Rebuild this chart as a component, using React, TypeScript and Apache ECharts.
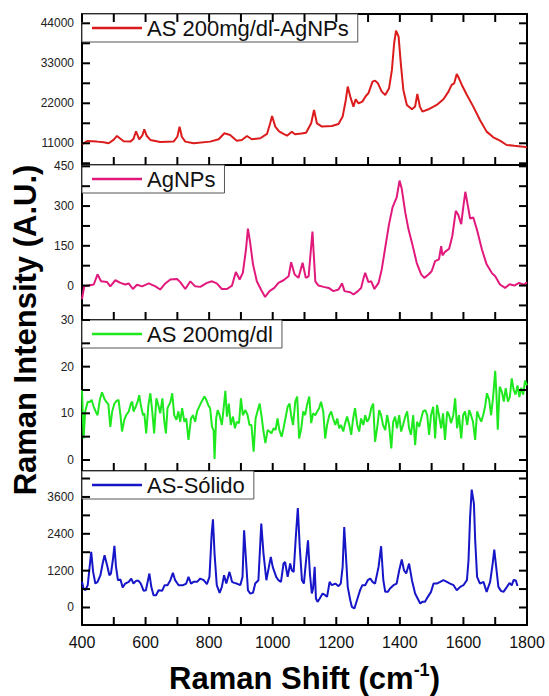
import React, { useEffect, useRef } from 'react';
import * as echarts from 'echarts';

// ---------- data ----------
const seriesNames = ['AS 200mg/dl-AgNPs', 'AgNPs', 'AS 200mg/dl', 'AS-Sólido'];
const seriesColors = ['#dc1c1c', '#e2197c', '#1ee81e', '#1616c8'];

const xLabelTicks = [400, 600, 800, 1000, 1200, 1400, 1600, 1800];
const xAllTicks = [400, 500, 600, 700, 800, 900, 1000, 1100, 1200, 1300, 1400, 1500, 1600, 1700, 1800];

const yLabels1 = [11000, 22000, 33000, 44000];
const yTicks1 = [5500, 11000, 16500, 22000, 27500, 33000, 38500, 44000];
const yLabels2 = [0, 150, 300, 450];
const yTicks2 = [-75, 0, 75, 150, 225, 300, 375, 450];
const yLabels3 = [0, 10, 20, 30];
const yTicks3 = [0, 5, 10, 15, 20, 25, 30];
const yLabels4 = [0, 1200, 2400, 3600];
const yTicks4 = [0, 600, 1200, 1800, 2400, 3000, 3600, 4200];

const yRanges = [
  [5030, 46560],
  [-130, 455],
  [-2.36, 30],
  [-570, 4445],
];

const asAgnps = [
  [400, 10725], [416, 11640], [447, 11460], [468, 11275], [484, 11000], [500, 12000], [510, 13020], [520, 12300], [531, 11550],
  [552, 11460], [562, 12200], [570, 14300], [580, 12100], [590, 13200], [596, 14850], [604, 13000], [615, 11920], [646, 11370],
  [688, 11460], [700, 12800], [707, 15590], [714, 12800], [725, 11460], [751, 11000], [803, 11460], [830, 12100], [848, 13750],
  [866, 13290], [887, 11730], [903, 11920], [919, 13020], [934, 12100], [961, 12380], [982, 13570], [992, 16500], [998, 18520],
  [1008, 15590], [1020, 14300], [1034, 13570], [1045, 13100], [1060, 14200], [1070, 13500], [1090, 13700], [1105, 13900],
  [1121, 16500], [1130, 20170], [1139, 16500], [1155, 15590], [1186, 15770], [1207, 16320], [1220, 18340], [1230, 22920],
  [1236, 26590], [1244, 23840], [1254, 21090], [1261, 23100], [1270, 22000], [1282, 22460], [1293, 24020], [1301, 24750],
  [1314, 27960], [1322, 28240], [1331, 27500], [1343, 25210], [1354, 24300], [1366, 26130], [1375, 31170], [1382, 38510],
  [1388, 42000], [1396, 40340], [1403, 33000], [1411, 25670], [1422, 21550], [1438, 20350], [1448, 21090], [1455, 24570],
  [1463, 21090], [1471, 19710], [1490, 20350], [1516, 21550], [1537, 23100], [1553, 25210], [1563, 27050], [1571, 27500],
  [1579, 30070], [1586, 28880], [1595, 27050], [1611, 24300], [1631, 21090], [1652, 17420], [1673, 14210], [1694, 12650],
  [1715, 11730], [1736, 10540], [1760, 10300], [1780, 10150], [1800, 9900],
];

const agnps = [
  [400, -51], [407, -3], [421, 0], [437, 4], [449, 42], [460, 16], [479, 13], [489, -3], [505, 20], [521, 10], [536, 4],
  [547, 8], [560, -13], [573, 3], [589, -3], [610, 8], [631, -3], [646, -15], [662, 8], [678, 23], [699, 25], [709, 13],
  [725, -13], [741, 16], [756, -3], [772, -5], [793, 10], [809, 16], [824, 8], [840, -13], [856, -13], [872, 0], [884, 51],
  [896, 23], [906, 48], [916, 137], [922, 215], [929, 162], [938, 80], [950, 16], [963, -15], [976, -43], [990, -21],
  [1005, -9], [1018, 10], [1034, 20], [1050, 35], [1058, 88], [1069, 42], [1081, 29], [1094, 86], [1104, 29], [1113, 35],
  [1125, 204], [1134, 16], [1144, 0], [1160, -5], [1176, -9], [1191, -21], [1207, -15], [1218, 8], [1226, -21], [1244, -25],
  [1254, -34], [1268, -21], [1278, -9], [1286, 29], [1291, 48], [1301, 13], [1310, 16], [1320, -13], [1333, 10], [1343, 61],
  [1354, 143], [1366, 232], [1377, 295], [1390, 333], [1399, 396], [1406, 365], [1417, 276], [1427, 213], [1438, 162],
  [1453, 86], [1467, 42], [1477, 29], [1490, 42], [1500, 54], [1511, 92], [1523, 99], [1530, 149], [1534, 114], [1542, 127],
  [1555, 139], [1565, 187], [1576, 282], [1584, 266], [1593, 232], [1600, 301], [1606, 354], [1614, 301], [1621, 253],
  [1631, 257], [1642, 213], [1658, 137], [1673, 80], [1689, 48], [1700, 35], [1715, 4], [1731, -9], [1745, 5], [1760, 0],
  [1775, 10], [1790, 3], [1800, 12],
];

const as200 = [
  [400, 15.0], [405, 4.6], [410, 10.4], [418, 12.5], [424, 12.4], [430, 12.9], [437, 11.4], [443, 10.4], [449, 9.6],
  [456, 12.9], [463, 14.5], [470, 13.2], [477, 12.4], [483, 11.9], [489, 7.1], [495, 10.4], [502, 12.1], [508, 12.6],
  [515, 12.9], [521, 9.6], [526, 6.1], [533, 8.6], [539, 9.6], [547, 10.4], [554, 12.1], [558, 12.5], [562, 10.4],
  [569, 11.4], [575, 12.5], [580, 13.9], [585, 11.8], [592, 9.6], [596, 10.0], [602, 5.7], [609, 11.8], [615, 14.3],
  [621, 10.4], [627, 5.7], [634, 13.2], [640, 11.8], [646, 10.0], [653, 13.2], [659, 8.2], [664, 5.7], [669, 11.1],
  [678, 12.4], [684, 14.3], [690, 9.6], [697, 8.6], [703, 10.4], [709, 8.2], [715, 11.1], [722, 8.2], [728, 8.9],
  [735, 4.3], [743, 8.9], [749, 9.6], [756, 8.2], [762, 10.4], [770, 11.6], [777, 12.6], [785, 13.6], [791, 12.9],
  [797, 11.8], [803, 11.1], [809, 7.1], [814, 6.4], [817, 0.2], [822, 8.9], [827, 10.7], [833, 9.6], [840, 7.5],
  [845, 10.7], [851, 14.8], [856, 9.3], [862, 12.1], [868, 7.5], [875, 9.3], [881, 6.8], [887, 8.2], [894, 7.9],
  [900, 13.2], [906, 9.6], [914, 10.7], [921, 9.6], [927, 7.5], [933, 7.5], [940, 1.8], [946, 8.9], [952, 10.4],
  [959, 12.1], [965, 9.3], [971, 6.1], [977, 3.6], [984, 6.4], [990, 6.1], [996, 5.7], [1003, 6.8], [1009, 6.4],
  [1015, 8.9], [1021, 6.4], [1028, 5.0], [1034, 6.8], [1040, 8.9], [1047, 11.4], [1053, 12.1], [1058, 9.6], [1064, 7.5],
  [1071, 12.5], [1077, 13.6], [1083, 4.6], [1090, 6.8], [1096, 10.4], [1102, 9.6], [1108, 11.8], [1115, 13.6],
  [1121, 7.9], [1127, 10.0], [1134, 9.6], [1140, 10.4], [1146, 11.1], [1152, 12.5], [1159, 10.4], [1165, 4.6],
  [1171, 7.5], [1178, 9.6], [1184, 10.4], [1190, 8.9], [1197, 7.5], [1203, 8.9], [1209, 6.8], [1215, 7.5], [1222, 6.1],
  [1228, 7.9], [1234, 9.3], [1241, 7.5], [1247, 5.4], [1253, 8.9], [1259, 11.1], [1266, 7.5], [1272, 6.1], [1278, 8.9],
  [1285, 7.5], [1291, 9.6], [1297, 8.2], [1303, 8.9], [1310, 11.1], [1316, 12.1], [1322, 3.9], [1329, 7.1], [1335, 10.7],
  [1341, 9.6], [1347, 7.5], [1354, 6.4], [1360, 9.6], [1366, 7.5], [1373, 2.5], [1379, 8.2], [1385, 9.3], [1391, 6.8],
  [1398, 9.6], [1404, 6.1], [1410, 7.5], [1417, 9.3], [1423, 10.4], [1429, 6.8], [1435, 5.4], [1442, 9.6], [1448, 3.2],
  [1454, 8.2], [1461, 7.1], [1467, 8.9], [1473, 10.4], [1480, 10.7], [1486, 9.6], [1492, 5.4], [1498, 9.6], [1505, 11.4],
  [1511, 4.6], [1517, 11.8], [1523, 9.6], [1530, 6.8], [1536, 10.0], [1542, 4.3], [1549, 10.4], [1555, 9.6], [1561, 7.9],
  [1568, 9.6], [1574, 13.2], [1580, 6.8], [1586, 9.6], [1593, 4.6], [1599, 9.6], [1605, 10.4], [1612, 7.5], [1618, 10.7],
  [1624, 9.6], [1630, 8.2], [1637, 4.3], [1643, 10.4], [1649, 9.3], [1656, 8.2], [1662, 9.6], [1668, 11.4], [1674, 14.3],
  [1681, 12.9], [1687, 9.6], [1693, 13.2], [1700, 19.1], [1704, 13.9], [1708, 6.5], [1714, 15.7], [1721, 14.6],
  [1727, 12.5], [1733, 15.4], [1740, 12.5], [1746, 13.5], [1752, 17.5], [1758, 15.0], [1764, 14.0], [1770, 16.0],
  [1776, 13.5], [1782, 15.5], [1788, 14.0], [1794, 17.0], [1800, 16.0],
];

const asSolido = [
  [400, 835], [405, 618], [410, 564], [418, 726], [424, 1322], [429, 1810], [435, 1160], [442, 780], [449, 835],
  [458, 1051], [465, 1431], [471, 1702], [479, 1377], [486, 1051], [491, 1106], [497, 1539], [502, 2005], [507, 1322],
  [513, 889], [521, 911], [528, 650], [536, 780], [547, 835], [555, 943], [562, 780], [570, 867], [578, 867], [585, 780],
  [594, 542], [601, 564], [612, 1106], [618, 672], [625, 401], [633, 401], [641, 564], [652, 542], [660, 726], [669, 726],
  [678, 889], [686, 1127], [693, 889], [704, 726], [718, 726], [728, 780], [735, 997], [743, 780], [751, 835], [762, 835],
  [772, 943], [783, 889], [793, 759], [801, 997], [808, 2406], [812, 2873], [817, 1756], [824, 726], [833, 477], [840, 672],
  [847, 1051], [854, 780], [864, 1160], [872, 835], [879, 802], [887, 780], [898, 726], [905, 997], [910, 2515], [916, 1539],
  [922, 564], [929, 455], [938, 477], [945, 780], [955, 889], [964, 2731], [971, 1756], [980, 889], [988, 1322], [994, 1648],
  [1000, 1322], [1011, 997], [1018, 889], [1026, 835], [1034, 1431], [1039, 1485], [1047, 997], [1055, 1431], [1060, 1214],
  [1066, 1160], [1073, 2352], [1079, 3241], [1085, 1973], [1092, 889], [1098, 780], [1104, 1431], [1111, 2190], [1117, 1106],
  [1123, 455], [1127, 618], [1132, 1322], [1136, 293], [1141, 184], [1148, 293], [1157, 455], [1165, 401], [1171, 347],
  [1179, 835], [1186, 726], [1197, 780], [1207, 694], [1214, 780], [1220, 1322], [1225, 2623], [1230, 1756], [1236, 672],
  [1244, 238], [1249, 22], [1257, -33], [1265, 238], [1275, 564], [1282, 726], [1291, 726], [1299, 889], [1307, 943],
  [1314, 835], [1322, 780], [1333, 1322], [1341, 1995], [1348, 889], [1354, 509], [1362, 509], [1369, 618], [1380, 726],
  [1390, 780], [1398, 1214], [1406, 1561], [1413, 1214], [1420, 1106], [1429, 1431], [1438, 889], [1448, 455], [1456, 293],
  [1464, 130], [1471, 184], [1479, 184], [1488, 347], [1498, 509], [1506, 780], [1516, 780], [1527, 835], [1537, 889],
  [1548, 835], [1558, 780], [1569, 726], [1579, 564], [1590, 672], [1600, 726], [1611, 889], [1616, 1539], [1621, 2948],
  [1626, 3837], [1633, 3382], [1637, 2190], [1643, 997], [1652, 780], [1663, 835], [1673, 509], [1684, 835], [1692, 1431],
  [1697, 1886], [1703, 1322], [1710, 672], [1718, 542], [1726, 509], [1737, 672], [1745, 800], [1752, 720], [1758, 900],
  [1765, 880], [1770, 700],
];

const allSeries = [asAgnps, agnps, as200, asSolido];
const yLabelSets = [yLabels1, yLabels2, yLabels3, yLabels4];
const yTickSets = [yTicks1, yTicks2, yTicks3, yTicks4];

// ---------- layout ----------
const PANEL_TOPS = [14, 165, 320, 471];
const PANEL_HEIGHTS = [151, 155, 151, 154];
const X_MIN = 400;
const X_MAX = 1800;
const TICK_LEN = 8;
const FONT = 'Arial, "Liberation Sans", Helvetica, sans-serif';
const plain = (v: number) => String(v);

export default function App() {
  const ref = useRef<HTMLDivElement>(null);

  useEffect(() => {
    if (!ref.current) return;
    const chart = echarts.init(ref.current, undefined, { renderer: 'svg' });

    const axisLine = { show: true, onZero: false, lineStyle: { color: '#000', width: 2 } };

    const grids = PANEL_TOPS.map((t, i) => ({ left: 82, right: 22, top: t, height: PANEL_HEIGHTS[i] }));

    const bottomX = PANEL_TOPS.map((_, i) => ({
      type: 'value',
      gridIndex: i,
      position: 'bottom',
      min: X_MIN,
      max: X_MAX,
      axisLine,
      splitLine: { show: false },
      axisTick: { show: false },
      axisLabel:
        i === 3
          ? { show: true, customValues: xLabelTicks, formatter: plain, fontSize: 16, color: '#111', fontFamily: FONT, margin: 9 }
          : { show: false },
      ...(i === 3
        ? {
            name: '{a|Raman Shift (cm}{b|-1}{a|)}',
            nameLocation: 'middle',
            nameGap: 36,
            nameTextStyle: {
              rich: {
                a: { fontSize: 31, fontWeight: 'bold', fontFamily: FONT, color: '#000', lineHeight: 34 },
                b: { fontSize: 18, fontWeight: 'bold', fontFamily: FONT, color: '#000', verticalAlign: 'top', lineHeight: 20 },
              },
            },
          }
        : {}),
    }));
    const topX = PANEL_TOPS.map((_, i) => ({
      type: 'value',
      gridIndex: i,
      position: 'top',
      min: X_MIN,
      max: X_MAX,
      axisLine,
      splitLine: { show: false },
      axisTick: { show: false },
      axisLabel: { show: false },
    }));

    const leftY = PANEL_TOPS.map((_, i) => ({
      type: 'value',
      gridIndex: i,
      position: 'left',
      min: yRanges[i][0],
      max: yRanges[i][1],
      axisLine,
      splitLine: { show: false },
      axisTick: { show: false },
      axisLabel: {
        show: true,
        customValues: yLabelSets[i],
        formatter: plain,
        fontSize: 12,
        color: '#222',
        fontFamily: FONT,
        margin: 8,
      },
    }));
    const rightY = PANEL_TOPS.map((_, i) => ({
      type: 'value',
      gridIndex: i,
      position: 'right',
      min: yRanges[i][0],
      max: yRanges[i][1],
      axisLine,
      splitLine: { show: false },
      axisTick: { show: false },
      axisLabel: { show: false },
    }));

    const legends = seriesNames.map((n, i) => ({
      data: [n],
      left: 82,
      top: PANEL_TOPS[i],
      orient: 'horizontal',
      backgroundColor: '#fff',
      borderColor: '#555',
      borderWidth: 1,
      padding: [3, 9, 3, 10],
      itemWidth: 50,
      itemHeight: 2.5,
      icon: 'rect',
      selectedMode: false,
      z: 5,
      textStyle: { fontSize: 22, fontFamily: FONT, color: '#111', lineHeight: 22 },
    }));

    const lineSeries = allSeries.map((d, i) => ({
      name: seriesNames[i],
      type: 'line',
      xAxisIndex: i,
      yAxisIndex: i,
      data: d,
      showSymbol: false,
      symbol: 'none',
      clip: true,
      color: seriesColors[i],
      lineStyle: { color: seriesColors[i], width: 2 },
      z: 2,
    }));

    const yTitle = {
      type: 'text',
      x: 25,
      y: 330,
      rotation: Math.PI / 2,
      style: {
        text: 'Raman Intensity (A.U.)',
        fontSize: 31,
        fontWeight: 'bold',
        fontFamily: FONT,
        fill: '#000',
        align: 'center',
        verticalAlign: 'middle',
      },
    };

    chart.setOption({
      animation: false,
      backgroundColor: '#fff',
      grid: grids,
      xAxis: [...bottomX, ...topX],
      yAxis: [...leftY, ...rightY],
      legend: legends,
      series: lineSeries,
      graphic: [yTitle],
    });

    // Inside tick marks on the frames, positioned through each panel's own scales.
    const ticks: any[] = [];
    const mk = (x: number, y: number, w: number, h: number) => ({
      type: 'rect',
      silent: true,
      z: 20,
      shape: { x, y, width: w, height: h },
      style: { fill: '#000' },
    });
    PANEL_TOPS.forEach((_, i) => {
      const finder = { xAxisIndex: i, yAxisIndex: i };
      yTickSets[i].forEach((v) => {
        const l = chart.convertToPixel(finder, [X_MIN, v]) as number[];
        const r = chart.convertToPixel(finder, [X_MAX, v]) as number[];
        if (!l || !r) return;
        ticks.push(mk(l[0], l[1] - 1, TICK_LEN, 2));
        ticks.push(mk(r[0] - TICK_LEN, r[1] - 1, TICK_LEN, 2));
      });
      xAllTicks.forEach((x) => {
        const b = chart.convertToPixel(finder, [x, yRanges[i][0]]) as number[];
        if (b) ticks.push(mk(b[0] - 1, b[1] - TICK_LEN, 2, TICK_LEN));
        if (i === 0) {
          const t = chart.convertToPixel(finder, [x, yRanges[i][1]]) as number[];
          if (t) ticks.push(mk(t[0] - 1, t[1], 2, TICK_LEN));
        }
      });
    });
    chart.setOption({ graphic: [yTitle, ...ticks] });

    return () => chart.dispose();
  }, []);

  return (
    <div
      ref={ref}
      style={{ position: 'absolute', left: 0, top: 0, width: 549, height: 696, background: '#fff' }}
    />
  );
}
